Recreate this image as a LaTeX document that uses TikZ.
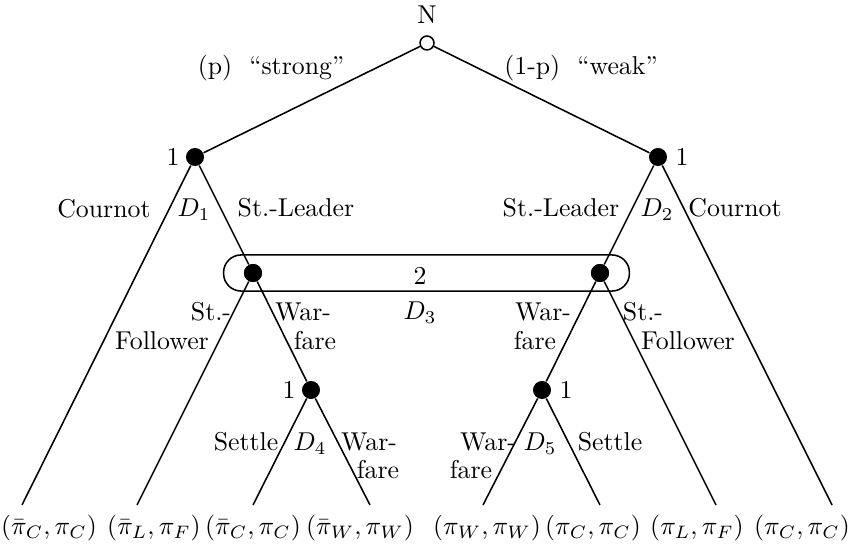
\documentclass[tikz,border=0pt]{standalone}
\usetikzlibrary{fit}
\begin{document}
\begin{tikzpicture}[x=0.3876pt,y=-0.3876pt,
  dec/.style={circle,fill=black,inner sep=0pt,minimum size=7pt},
  chance/.style={circle,draw,fill=white,inner sep=0pt,minimum size=5.4pt,line width=0.6pt},
  edge/.style={line width=0.6pt},
  lab/.style={inner sep=0pt},
  pay/.style={inner sep=0pt,font=\fontsize{9.7}{11}\selectfont},
  infoset/.style={draw,line width=0.6pt,rounded corners=6.8pt,inner xsep=7.7pt,inner ysep=3.3pt}]
\useasboundingbox (0,0) rectangle (856,548);
% decision nodes
\node[chance] (N) at (427,43) {};
\node[dec] (L1) at (195,157) {};
\node[dec] (R1) at (658,157) {};
\node[dec] (L2) at (253,273) {};
\node[dec] (R2) at (600,273) {};
\node[dec] (D4n) at (311,390) {};
\node[dec] (D5n) at (542,390) {};
% terminal points
\coordinate (t1) at (22,505);
\coordinate (t2) at (137,505);
\coordinate (t3) at (253,505);
\coordinate (t4) at (370,505);
\coordinate (t5) at (483,505);
\coordinate (t6) at (600,505);
\coordinate (t7) at (716,505);
\coordinate (t8) at (832,505);
% edges
\draw[edge] (N) -- (L1);
\draw[edge] (N) -- (R1);
\draw[edge] (L1) -- (t1);
\draw[edge] (L1) -- (L2);
\draw[edge] (R1) -- (R2);
\draw[edge] (R1) -- (t8);
\draw[edge] (L2) -- (t2);
\draw[edge] (L2) -- (D4n);
\draw[edge] (R2) -- (D5n);
\draw[edge] (R2) -- (t7);
\draw[edge] (D4n) -- (t3);
\draw[edge] (D4n) -- (t4);
\draw[edge] (D5n) -- (t5);
\draw[edge] (D5n) -- (t6);
% information set
\node[infoset,fit=(L2)(R2)] (I2) {};
\node[dec] at (L2) {};
\node[dec] at (R2) {};
% player labels
\node[lab] (labN) at (427,15) {N};
\node[lab] (lab1L) at (173,157) {1};
\node[lab] (lab1R) at (682,157) {1};
\node[lab] (lab2) at (420,276) {2};
\node[lab] (lab1D4) at (289,390) {1};
\node[lab] (lab1D5) at (566,390) {1};
% decision labels
\node[lab] (labD1) at (194,210) {$D_1$};
\node[lab] (labD2) at (657,210) {$D_2$};
\node[lab] (labD3) at (420,313) {$D_3$};
\node[lab] (labD4) at (310,444) {$D_4$};
\node[lab] (labD5) at (540,444) {$D_5$};
% action labels
\node[lab] (aS) at (271,68) {(p)\ \ ``strong''};
\node[lab] (aW) at (581,68) {(1-p)\ \ ``weak''};
\node[lab] (aCL) at (104,209) {Cournot};
\node[lab] (aSLL) at (296,208) {St.-Leader};
\node[lab] (aSLR) at (561,208) {St.-Leader};
\node[lab] (aCR) at (735,208) {Cournot};
\node[lab] (aSFL1) at (211,312) {St.-};
\node[lab] (aSFL2) at (162,341) {Follower};
\node[lab] (aWL1) at (303,312) {War-};
\node[lab] (aWL2) at (315,341) {fare};
\node[lab] (aWR1) at (543,312) {War-};
\node[lab] (aWR2) at (535,341) {fare};
\node[lab] (aSFR1) at (643,312) {St.-};
\node[lab] (aSFR2) at (688,341) {Follower};
\node[lab] (aSe4) at (246,442) {Settle};
\node[lab] (aW41) at (369,442) {War-};
\node[lab] (aW42) at (378,470) {fare};
\node[lab] (aW51) at (488,442) {War-};
\node[lab] (aW52) at (471,470) {fare};
\node[lab] (aSe5) at (610,442) {Settle};
% payoffs
\node[pay] (p1) at (49,528) {$(\bar\pi_C,\pi_C)$};
\node[pay] (p2) at (154,528) {$(\bar\pi_L,\pi_F)$};
\node[pay] (p3) at (253,528) {$(\bar\pi_C,\pi_C)$};
\node[pay] (p4) at (360,528) {$(\bar\pi_W,\pi_W)$};
\node[pay] (p5) at (487,528) {$(\pi_W,\pi_W)$};
\node[pay] (p6) at (593,528) {$(\pi_C,\pi_C)$};
\node[pay] (p7) at (697,528) {$(\pi_L,\pi_F)$};
\node[pay] (p8) at (802,528) {$(\pi_C,\pi_C)$};
\end{tikzpicture}
\end{document}
